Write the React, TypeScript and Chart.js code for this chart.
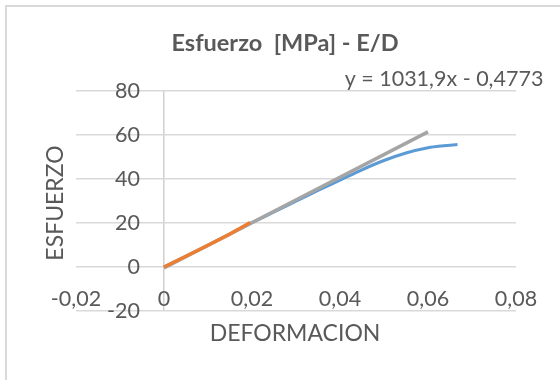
import React, { useEffect, useRef } from "react";
import { Chart, registerables } from "chart.js";

Chart.register(...registerables);

// ---- data ----
const blueX = [0, 0.005, 0.01, 0.015, 0.02, 0.025, 0.03, 0.035, 0.04, 0.045, 0.05, 0.055, 0.06, 0.0635, 0.0667];
const blueY = [0, 4.9, 9.9, 15.0, 20.1, 25.0, 29.9, 34.8, 39.5, 44.2, 48.4, 51.8, 54.2, 55.1, 55.7];
const orangeX = [0, 0.005, 0.01, 0.015, 0.0196];
const orangeY = [0, 4.9, 9.9, 15.0, 20.2];
const trendX = [0, 0.06];
const trendY = [-0.4773, 61.4367];

const xTicks = [-0.02, 0, 0.02, 0.04, 0.06, 0.08];
const yTicks = [-20, 0, 20, 40, 60, 80];

const titleText = "Esfuerzo  [MPa] - E/D";
const equationText = "y = 1031,9x - 0,4773";
const xTitle = "DEFORMACION";
const yTitle = "ESFUERZO";

const TEXT = "#595959";
const FONT = "Lato";

const pts = (xs: number[], ys: number[]) => xs.map((x, i) => ({ x, y: ys[i] }));
const fmt = (v: number) => String(Number(v.toFixed(4))).replace(".", ",");

const textPlugin = {
  id: "texts",
  beforeDraw(chart: any) {
    const c = chart.ctx;
    c.save();
    c.strokeStyle = "#d9d9d9";
    c.lineWidth = 2;
    c.beginPath();
    c.moveTo(6, 380);
    c.lineTo(6, 6);
    c.lineTo(560, 6);
    c.stroke();
    c.restore();
  },
  afterDraw(chart: any) {
    const c = chart.ctx;
    c.save();
    c.fillStyle = TEXT;
    c.textAlign = "center";
    c.textBaseline = "middle";
    c.font = `bold 23.5px ${FONT}`;
    c.fillText(titleText, 285, 43);
    c.font = `21.5px ${FONT}`;
    c.fillText(equationText, 444, 79);
    c.font = `23px ${FONT}`;
    c.fillText(xTitle, 295, 334);
    c.translate(56, 203);
    c.rotate(-Math.PI / 2);
    c.fillText(yTitle, 0, 0);
    c.restore();
  },
};

export default function App() {
  const ref = useRef<HTMLCanvasElement>(null);
  useEffect(() => {
    if (!ref.current) return;
    const chart = new Chart(ref.current, {
      type: "scatter",
      data: {
        datasets: [
          {
            label: "Lineal",
            data: pts(orangeX, orangeY),
            showLine: true,
            borderColor: "#ed7d31",
            borderWidth: 3.5,
            pointRadius: 0,
            order: 0,
          },
          {
            label: "Tendencia",
            data: pts(trendX, trendY),
            showLine: true,
            borderColor: "#a5a5a5",
            borderWidth: 3.5,
            pointRadius: 0,
            order: 1,
          },
          {
            label: "E/D",
            data: pts(blueX, blueY),
            showLine: true,
            borderColor: "#5b9bd5",
            borderWidth: 3,
            pointRadius: 0,
            cubicInterpolationMode: "monotone",
            order: 2,
          },
        ],
      },
      options: {
        responsive: false,
        animation: false,
        layout: { padding: { left: 76, right: 44, top: 91, bottom: 69 } },
        plugins: { legend: { display: false }, tooltip: { enabled: false }, title: { display: false } },
        scales: {
          x: {
            type: "linear",
            min: xTicks[0],
            max: xTicks[xTicks.length - 1],
            position: { y: 0 },
            afterBuildTicks: (s: any) => {
              s.ticks = xTicks.map((v) => ({ value: v }));
            },
            border: { display: false },
            grid: {
              drawTicks: false,
              lineWidth: 1.5,
              color: (ctx: any) => (ctx.tick && Math.abs(ctx.tick.value) < 1e-9 ? "#d0d0d0" : "rgba(0,0,0,0)"),
            },
            ticks: {
              color: TEXT,
              font: { family: FONT, size: 21.5, lineHeight: 1 },
              padding: 21,
              maxRotation: 0,
              autoSkip: false,
              callback: (v: any) => fmt(Number(v)),
            },
          },
          y: {
            type: "linear",
            min: yTicks[0],
            max: yTicks[yTicks.length - 1],
            position: { x: -0.005455 },
            afterBuildTicks: (s: any) => {
              s.ticks = yTicks.map((v) => ({ value: v }));
            },
            border: { display: false },
            grid: { drawTicks: false, lineWidth: 1.5, color: "#d9d9d9" },
            ticks: {
              color: TEXT,
              font: { family: FONT, size: 21.5, lineHeight: 1 },
              autoSkip: false,
              callback: (v: any) => fmt(Number(v)),
            },
          },
        },
      },
      plugins: [textPlugin],
    } as any);
    return () => chart.destroy();
  }, []);
  return (
    <div style={{ position: "fixed", left: 0, top: 0, width: 560, height: 380, background: "#fff" }}>
      <canvas ref={ref} width={560} height={380} style={{ display: "block" }} />
    </div>
  );
}
